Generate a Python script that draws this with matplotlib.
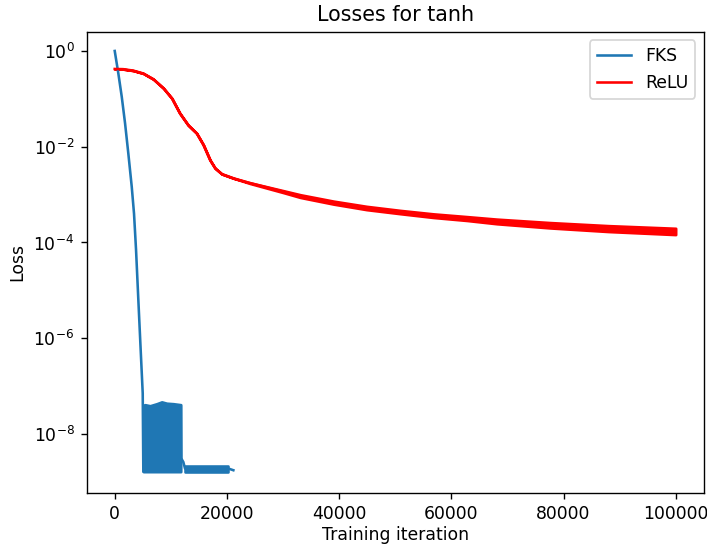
"""Losses for tanh: FKS vs ReLU training loss on a log scale."""
import matplotlib
matplotlib.use('Agg')
import numpy as np
import matplotlib.pyplot as plt

# FKS loss curve (iteration, loss).
fks_iter = [0, 640, 1250, 1840, 2420, 3030, 3440, 3800, 4210, 4600, 4990,
            5100, 11770, 11770, 11850, 12230, 12530, 20250, 21150]
fks_loss = [1.0, 0.342, 0.111, 0.031, 7.3e-3, 1.47e-3, 4.0e-4, 7.0e-5,
            6.3e-6, 6.6e-7, 7.1e-8, 1.63e-9, 1.63e-9, 3.9e-8, 3.1e-9,
            2.6e-9, 1.9e-9, 1.9e-9, 1.75e-9]

# FKS oscillating bands (upper / lower envelope).
fks_band1_iter = [5100, 5400, 6290, 7490, 8380, 9270, 10450, 11770]
fks_band1_hi = [4.0e-8, 4.1e-8, 3.9e-8, 4.3e-8, 4.7e-8, 4.4e-8, 4.3e-8, 4.1e-8]
fks_band1_lo = [1.63e-9] * len(fks_band1_iter)
fks_band2_iter = [12530, 20250]
fks_band2_hi = [2.15e-9, 2.15e-9]
fks_band2_lo = [1.63e-9, 1.63e-9]

# ReLU loss curve (centre of the drawn band) and its spread factor.
relu_iter = [0, 1500, 3300, 5100, 6900, 8700, 10200, 11600, 13100, 14600,
             15800, 17000, 17900, 19100, 21200, 24100, 30100, 33100, 39000,
             44900, 50900, 56800, 62800, 68100, 77600, 88000, 100000]
relu_loss = [0.421, 0.417, 0.389, 0.339, 0.257, 0.166, 0.102, 0.0501, 0.0282,
             0.0191, 0.01096, 5.25e-3, 3.55e-3, 2.69e-3, 2.19e-3, 1.74e-3,
             1.15e-3, 9.3e-4, 6.8e-4, 5.25e-4, 4.32e-4, 3.63e-4, 3.16e-4,
             2.75e-4, 2.29e-4, 1.95e-4, 1.70e-4]
relu_spread = [1.0, 1.0, 1.0, 1.0, 1.0, 1.0, 1.0, 1.0, 1.0, 1.0, 1.0, 1.0,
               1.0, 1.0, 1.0, 1.02, 1.05, 1.07, 1.077, 1.085, 1.085, 1.093,
               1.10, 1.12, 1.14, 1.155, 1.166]

fig = plt.figure(figsize=(707 / 124, 546 / 124), dpi=124)
ax = fig.add_axes([0.1226, 0.0971, 0.8728, 0.8449])

blue = '#1f77b4'
ax.plot(fks_iter, fks_loss, color=blue, label='FKS')
ax.fill_between(fks_band1_iter, fks_band1_lo, fks_band1_hi, color=blue,
                edgecolor=blue, linewidth=1.5)
ax.fill_between(fks_band2_iter, fks_band2_lo, fks_band2_hi, color=blue,
                edgecolor=blue, linewidth=1.5)

relu_loss = np.array(relu_loss)
relu_spread = np.array(relu_spread)
ax.plot(relu_iter, relu_loss, color='red', label='ReLU')
ax.fill_between(relu_iter, relu_loss / relu_spread, relu_loss * relu_spread,
                color='red', edgecolor='red', linewidth=1.5)

ax.set_yscale('log')
ax.set_xlim(-5000, 105000)
ax.set_ylim(5.86e-10, 2.53)
ax.set_yticks([1e0, 1e-2, 1e-4, 1e-6, 1e-8])
ax.set_title('Losses for tanh')
ax.set_xlabel('Training iteration', labelpad=2)
ax.set_ylabel('Loss')
ax.legend(loc='upper right')

fig.savefig('out.png', dpi=124)
